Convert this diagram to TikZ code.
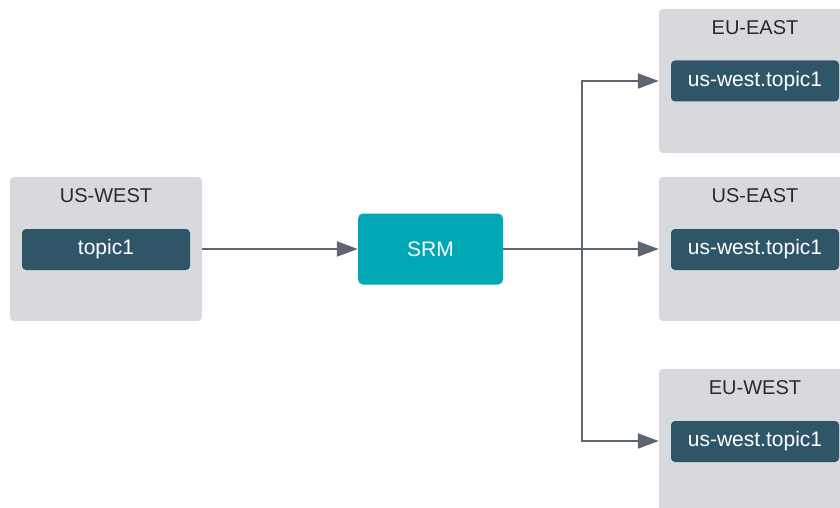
\documentclass[tikz,border=0pt]{standalone}
\usepackage{fontspec}
\setmainfont{Liberation Sans}
\usetikzlibrary{arrows.meta}
\definecolor{regiongray}{HTML}{D8D9DC}
\definecolor{topicblue}{HTML}{2F5668}
\definecolor{srmteal}{HTML}{00A7B5}
\definecolor{linegray}{HTML}{5E6670}
\definecolor{labeltext}{HTML}{2B2B2B}
\begin{document}
\begin{tikzpicture}[
            x=1pt, y=-1pt,
            region/.style={fill=regiongray, rounded corners=4pt, minimum width=192pt, minimum height=144pt, inner sep=0pt},
            regionlabel/.style={text=labeltext, font=\fontsize{20}{24}\selectfont},
            topic/.style={fill=topicblue, rounded corners=4pt, minimum width=168pt, minimum height=41pt, inner sep=0pt, text=white, font=\fontsize{21}{25}\selectfont},
            srm_node/.style={fill=srmteal, rounded corners=5pt, minimum width=145pt, minimum height=71pt, inner sep=0pt, text=white, font=\fontsize{21}{25}\selectfont},
            link/.style={draw=linegray, line width=2.2pt, -{Triangle[length=21pt, width=15pt]}}
        ]
        \clip (0,0) rectangle (840,508);
        \fill[white] (0,0) rectangle (840,508);

        % Source cluster
        \node[region] (uswest) at (106, 249) {};
        \node[regionlabel] (uswest_l) at (106, 196) {US-WEST};
        \node[topic] (src) at (106, 249.5) {topic1};

        % Replication manager
        \node[srm_node] (srm) at (430.5, 249) {SRM};

        % Target clusters
        \node[region] (eueast) at (755, 81) {};
        \node[regionlabel] (eueast_l) at (755, 28) {EU-EAST};
        \node[topic] (t1) at (755, 81) {us-west.topic1};

        \node[region] (useast) at (755, 249) {};
        \node[regionlabel] (useast_l) at (755, 196) {US-EAST};
        \node[topic] (t2) at (755, 249.5) {us-west.topic1};

        \node[region] (euwest) at (755, 441) {};
        \node[regionlabel] (euwest_l) at (755, 388) {EU-WEST};
        \node[topic] (t3) at (755, 441.5) {us-west.topic1};

        % Connectors
        \coordinate (split) at (582, 249);
        \draw[link] (uswest) -- (srm);
        \draw[link] (srm) -- (useast.west);
        \draw[link] (split) |- (eueast.west);
        \draw[link] (split) |- (euwest.west);

    \end{tikzpicture}
\end{document}
